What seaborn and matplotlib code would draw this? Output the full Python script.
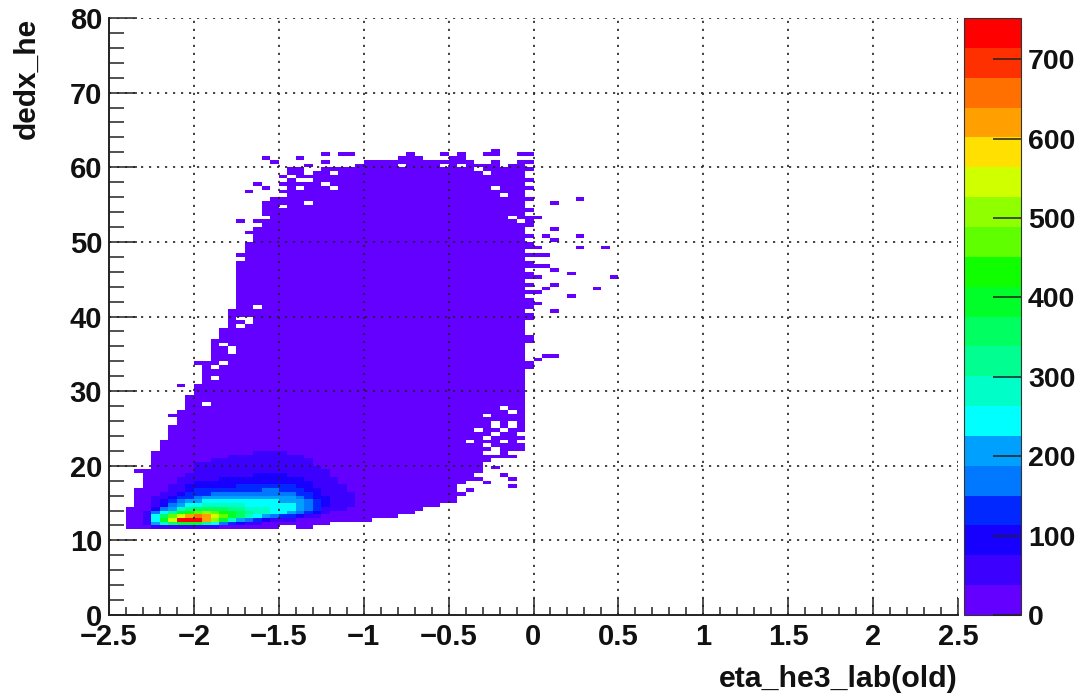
import numpy as np
import pandas as pd
import matplotlib
matplotlib.use("Agg")
import matplotlib.pyplot as plt
from matplotlib.colors import ListedColormap
from matplotlib.ticker import MultipleLocator
import seaborn as sns

# ---- values ----
eta_start = [-2.40 + 0.05 * i for i in range(47)]
upper_edge = [14.5, 17, 19.5, 22, 23.5, 25.5, 27.5, 29.5, 31, 34, 36.5, 38.5, 41, 46, 50, 53, 55.5, 56,
              59.5, 60, 60, 59.5, 59.5, 60, 60, 60, 60, 60.5, 61, 61, 61, 61, 61.5, 62, 61.5, 61, 61, 61,
              61.5, 61.5, 61, 60.5, 60.5, 60.5, 60, 60.5, 60.5]
lower_edge = [11.5] * 18 + [12, 12, 11.5, 11.5, 12, 12, 12.5, 12.5, 12.5, 12.5, 12.5, 13, 13, 13, 13.5, 13.5,
              14, 14.5, 14.5, 15, 15.5, 17.5, 18, 19, 20.5, 21, 21, 21, 22]
background_count = 15

# counts per eta column, from dedx = 11.5 upward in 0.5 steps
core_columns = [
    [15, 15, 15, 15, 15],
    [20, 25, 25, 25, 20, 18],
    [30, 50, 60, 55, 45, 35, 28, 22],
    [40, 200, 260, 230, 160, 95, 65, 50, 38, 30],
    [60, 300, 400, 340, 240, 160, 110, 80, 60, 45, 35],
    [70, 340, 540, 460, 320, 220, 160, 120, 90, 70, 55, 42, 32],
    [70, 380, 720, 560, 400, 280, 210, 160, 125, 95, 75, 60, 48, 38, 30],
    [70, 400, 750, 620, 450, 310, 240, 190, 150, 120, 95, 78, 65, 52, 44, 36, 30],
    [60, 400, 720, 640, 480, 340, 260, 215, 175, 140, 115, 95, 80, 70, 60, 54, 46, 40, 34, 28],
    [50, 330, 620, 620, 490, 350, 275, 230, 190, 150, 122, 100, 84, 72, 62, 56, 50, 42, 36, 30],
    [40, 240, 500, 560, 470, 360, 285, 240, 200, 160, 128, 105, 88, 75, 65, 58, 52, 46, 38, 32, 27],
    [32, 170, 380, 480, 430, 350, 285, 245, 205, 165, 132, 108, 90, 78, 67, 60, 54, 48, 42, 36, 30],
    [25, 120, 290, 410, 390, 330, 280, 245, 210, 170, 136, 112, 94, 80, 70, 62, 55, 50, 44, 38, 32, 28],
    [20, 85, 220, 350, 350, 310, 270, 240, 210, 175, 140, 116, 98, 84, 72, 64, 56, 50, 45, 40, 35, 30, 26],
    [18, 60, 165, 300, 320, 295, 262, 235, 208, 178, 145, 120, 102, 88, 75, 66, 58, 52, 46, 41, 37, 32, 27],
    [15, 42, 125, 260, 295, 280, 255, 232, 208, 180, 150, 124, 106, 90, 78, 68, 60, 54, 48, 42, 38, 33, 28],
    [15, 32, 95, 220, 275, 270, 250, 230, 206, 182, 152, 128, 108, 92, 80, 70, 62, 55, 50, 45, 40, 37, 32, 28],
    [15, 25, 70, 185, 255, 262, 245, 226, 204, 180, 152, 128, 108, 92, 80, 70, 62, 55, 50, 45, 40, 36, 32, 28],
    [15, 20, 52, 150, 235, 250, 240, 222, 200, 176, 150, 126, 106, 90, 78, 68, 60, 54, 48, 44, 38, 34, 30, 26],
    [15, 18, 40, 115, 205, 238, 230, 212, 190, 166, 140, 118, 100, 86, 75, 66, 58, 52, 46, 42, 37, 33, 28],
    [15, 15, 30, 85, 165, 205, 205, 192, 172, 150, 125, 105, 90, 78, 70, 62, 55, 48, 43, 39, 34, 30],
    [15, 15, 22, 60, 120, 160, 170, 160, 145, 125, 108, 92, 80, 70, 62, 55, 48, 43, 39, 34, 30],
    [15, 15, 18, 42, 85, 115, 125, 125, 112, 98, 85, 75, 66, 58, 50, 44, 40, 36, 30],
    [15, 15, 15, 25, 48, 75, 85, 85, 78, 70, 64, 58, 52, 46, 42, 38, 32, 28],
    [15, 15, 15, 20, 36, 55, 65, 66, 62, 56, 52, 48, 42, 38, 34, 30],
    [15, 15, 15, 15, 28, 42, 50, 52, 50, 48, 42, 38, 34, 30],
    [15, 15, 15, 15, 22, 32, 38, 40, 40, 38, 35, 32, 30],
]

last_column_dedx = [61.5, 60.5, 59.5, 58, 57, 55.5, 54, 53, 52.5, 52, 50.5, 49.5, 49, 48, 47, 46.5, 45.5,
                    45, 44, 43, 42, 41.5, 41, 40, 39.5, 37, 36.5, 33.5, 33]

stray_eta = [0.13, 0.277, 0.13, 0.277, 0.08, 0.13, 0.277, 0.42, 0.03, 0.08, 0.08, 0.13, 0.23, 0.47, 0.13,
             0.08, 0.23, 0.37, 0.03, 0.03, 0.03, 0.03, 0.03, 0.03, 0.03, 0.13, 0.08, 0.13, 0.03,
             -1.566, -1.527, -1.37, -1.32, -1.22, -1.22, -1.12, -1.065, -0.22, -0.22, -0.22, -0.076, -0.076,
             -0.547, -0.45, -0.27, -1.62, -1.675, -1.576, -1.72, -1.675, -1.72, -1.72, -1.72, -1.72, -1.72,
             -1.72, -1.77, -1.77, -2.07, -2.12, -2.12, -2.12, -2.07, -2.17, -2.22, -2.32, -2.27, -2.33, -2.33,
             -1.97, -1.92, -1.92, -1.92, -1.88, -0.175, -0.125, -0.125, -0.325, -0.325, -0.275, -0.225,
             -0.375, -0.425, -0.475, -0.52]
stray_dedx = [55, 55.5, 51.6, 50.7, 50.5, 50, 49, 49.4, 53.2, 48, 46.8, 46, 45.7, 45.3, 44,
              43.5, 42.9, 43.5, 49.4, 48.2, 46.7, 45.4, 45, 43, 41.6, 40.6, 34.7, 34.7, 34,
              61.1, 60.6, 61, 60.4, 61.5, 60.5, 61.5, 61.5, 62.1, 61.5, 60.6, 61.8, 60.5,
              61.5, 61.8, 61.6, 57.5, 56.8, 57, 52.8, 51.1, 48.2, 47, 46.5, 46, 43.5,
              41.5, 40.5, 40, 30.6, 26.6, 25.3, 24.3, 27.1, 22.3, 21.2, 19.4, 18.7, 16.5, 15.8,
              33.5, 33.8, 32.6, 31.5, 36.6, 18.8, 18.4, 17.2, 19.4, 18, 17.6, 19.8,
              16.8, 16.3, 15.1, 15.3]

hole_eta = [-1.47, -1.47, -1.38, -1.42, -1.32, -1.22, -1.17, -1.37, -1.47, -1.47, -1.32, -1.48, -1.22, -1.32,
            -1.17, -1.61, -1.57, -1.925, -1.87, -1.84, -1.89, -1.72, -1.67, -1.72, -1.66, -1.61, -1.77, -1.77,
            -1.83, -0.77, -0.545, -0.445, -0.32, -0.27, -0.22, -0.17, -0.12, -0.07, -0.02,
            -0.27, -0.22, -0.22, -0.22, -0.27, -0.27, -0.22, -0.12, -0.12, -0.07, -0.17, -0.22, -0.07, -0.17,
            -0.12, -0.32, -0.37, -0.27, -0.12, -0.07, -0.17, -0.02, -0.02, -0.02]
hole_dedx = [59, 58, 58, 58.7, 58, 57.9, 59, 57, 57, 56, 55, 54.5, 60, 59,
             57.2, 52, 53, 28.1, 31.5, 33.7, 33, 38.6, 39.2, 39.8, 39.8, 41, 35.8, 35,
             36, 60.3, 60.2, 60, 59.5, 59, 57, 56, 53, 52.5, 60,
             26.5, 25.8, 25, 24.3, 23.5, 22.8, 22, 25.8, 25, 24, 23, 21.5, 21.8, 24.7,
             27, 24.5, 23, 21.5, 21.5, 23.3, 27.8, 35, 34, 31]

x_ticks = [-2.5, -2, -1.5, -1, -0.5, 0, 0.5, 1, 1.5, 2, 2.5]
x_tick_labels = ["\u22122.5", "\u22122", "\u22121.5", "\u22121", "\u22120.5", "0", "0.5", "1", "1.5", "2", "2.5"]
y_ticks = [0, 10, 20, 30, 40, 50, 60, 70, 80]
cbar_ticks = [0, 100, 200, 300, 400, 500, 600, 700]
count_max = 752
palette = ["#6400ff", "#3c00ff", "#1800ff", "#0028ff", "#0078ff", "#00a0ff", "#00ffff", "#00ffc8", "#00ff90",
           "#00ff60", "#00ff28", "#10ff00", "#60ff00", "#90ff00", "#d0ff00", "#ffe000", "#ffa000", "#ff7000",
           "#ff3000", "#ff0000"]

# ---- build the 2D histogram table ----
x_edges = np.linspace(-2.5, 2.5, 101)
y_edges = np.linspace(0, 80, 161)
grid = np.zeros((100, 160))


def xi(e):
    return int(np.floor((e + 2.5) / 0.05 + 1e-6))


def yi(d):
    return int(np.floor(d / 0.5 + 1e-6))


for e, lo, hi in zip(eta_start, lower_edge, upper_edge):
    grid[xi(e), yi(lo):yi(hi)] = background_count
for c, col in enumerate(core_columns):
    for r, v in enumerate(col):
        if grid[xi(-2.40 + 0.05 * c), yi(11.5) + r] > 0:
            grid[xi(-2.40 + 0.05 * c), yi(11.5) + r] = v
for e, d in zip(hole_eta, hole_dedx):
    grid[xi(e), yi(d)] = 0
for d in last_column_dedx:
    grid[xi(-0.03), yi(d)] = background_count
for e, d in zip(stray_eta, stray_dedx):
    grid[xi(e), yi(d)] = background_count

ix, iy = np.nonzero(grid)
table = pd.DataFrame({"eta": (x_edges[ix] + x_edges[ix + 1]) / 2,
                      "dedx": (y_edges[iy] + y_edges[iy + 1]) / 2,
                      "count": grid[ix, iy]})

# ---- figure ----
sns.set_theme(style="white")
plt.rcParams["font.family"] = ["Liberation Sans", "DejaVu Sans"]
plt.rcParams["font.weight"] = "bold"
W, H = 1084, 696
fig = plt.figure(figsize=(W / 100, H / 100), dpi=100, facecolor="white")
ax = fig.add_axes([109 / W, 1 - 615 / H, 849 / W, 597 / H])
cax = fig.add_axes([964 / W, 1 - 615 / H, 57 / W, 597 / H])

sns.histplot(data=table, x="eta", y="dedx", weights="count", bins=[x_edges, y_edges],
             cmap=ListedColormap(palette), vmin=0, vmax=count_max, thresh=0,
             cbar=True, cbar_ax=cax, ax=ax)

ax.set_xlim(-2.5, 2.5)
ax.set_ylim(0, 80)
ax.set_xticks(x_ticks)
ax.set_xticklabels(x_tick_labels)
ax.set_yticks(y_ticks)
ax.xaxis.set_minor_locator(MultipleLocator(0.1))
ax.yaxis.set_minor_locator(MultipleLocator(2))
ax.set_axisbelow(False)
ax.grid(True, which="major", color="#222222", linestyle=(0, (1.3, 3.5)), linewidth=1.2)
ax.tick_params(axis="x", which="major", direction="in", length=12, width=1.1, labelsize=21, pad=6, color="#222222", bottom=True)
ax.tick_params(axis="x", which="minor", direction="in", length=6, width=1.1, color="#222222", bottom=True)
ax.tick_params(axis="y", which="major", direction="in", length=20, width=1.1, labelsize=21, pad=5, color="#222222", left=True)
ax.tick_params(axis="y", which="minor", direction="in", length=11, width=1.1, color="#222222", left=True)
for side in ("top", "right"):
    ax.spines[side].set_visible(False)
for side in ("left", "bottom"):
    ax.spines[side].set_linewidth(1.4)
    ax.spines[side].set_color("#222222")

ax.set_xlabel("eta_he3_lab(old)", fontsize=21.8, fontweight="bold", loc="right", va="center", color="#111111")
ax.xaxis.set_label_coords(1.0, -64 / 597)
ax.set_ylabel("dedx_he", fontsize=21.5, fontweight="bold", loc="top", va="center", color="#111111")
ax.yaxis.set_label_coords(-82 / 849, 1.0)
for lab in ax.get_xticklabels() + ax.get_yticklabels():
    lab.set_fontweight("bold")
    lab.set_color("#111111")

cax.set_yticks(cbar_ticks)
cax.yaxis.set_ticks_position("right")
cax.set_axisbelow(False)
cax.tick_params(axis="y", which="major", direction="in", length=20, width=1.1, labelsize=20.5, pad=5, color="#222222", right=True)
cax.minorticks_off()
for lab in cax.get_yticklabels():
    lab.set_fontweight("bold")
    lab.set_color("#111111")
for sp in cax.spines.values():
    sp.set_linewidth(0.8)
    sp.set_color("#333333")

fig.savefig("out.png", dpi=100, facecolor="white")
